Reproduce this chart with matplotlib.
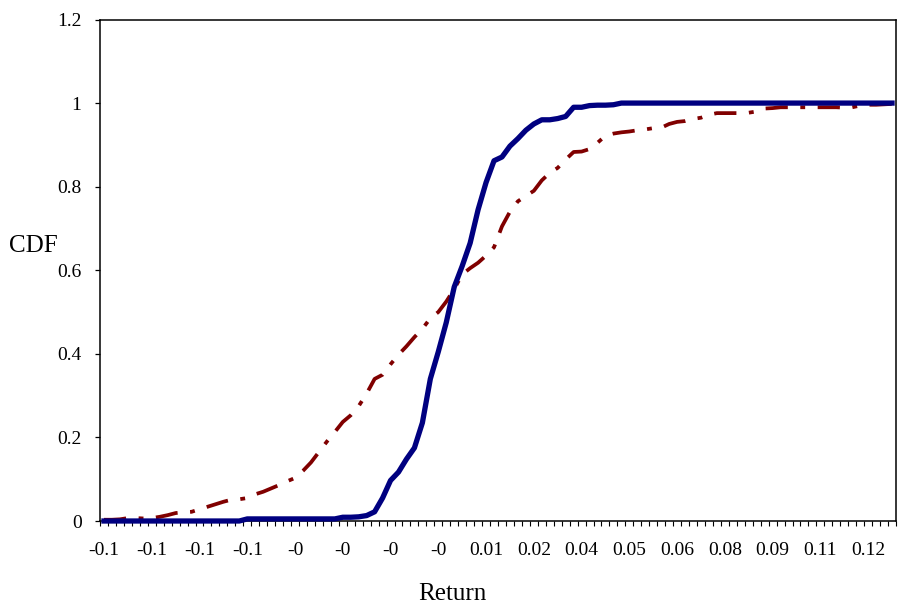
import numpy as np
import matplotlib
matplotlib.use("Agg")
import matplotlib.pyplot as plt

# CDF of returns, 100 bins
cdf_blue = [0.000, 0.000, 0.000, 0.000, 0.000, 0.000, 0.000, 0.000, 0.000, 0.000,
            0.000, 0.000, 0.000, 0.000, 0.000, 0.000, 0.000, 0.000, 0.005, 0.005,
            0.005, 0.005, 0.005, 0.005, 0.005, 0.005, 0.005, 0.005, 0.005, 0.005,
            0.009, 0.009, 0.010, 0.013, 0.022, 0.055, 0.097, 0.117, 0.148, 0.175,
            0.235, 0.340, 0.405, 0.475, 0.560, 0.610, 0.665, 0.745, 0.810, 0.862,
            0.871, 0.897, 0.915, 0.935, 0.950, 0.960, 0.960, 0.963, 0.968, 0.990,
            0.990, 0.994, 0.995, 0.995, 0.996, 1.000, 1.000, 1.000, 1.000, 1.000,
            1.000, 1.000, 1.000, 1.000, 1.000, 1.000, 1.000, 1.000, 1.000, 1.000,
            1.000, 1.000, 1.000, 1.000, 1.000, 1.000, 1.000, 1.000, 1.000, 1.000,
            1.000, 1.000, 1.000, 1.000, 1.000, 1.000, 1.000, 1.000, 1.000, 1.000]

cdf_red = [0.003, 0.003, 0.004, 0.007, 0.007, 0.006, 0.007, 0.010, 0.014, 0.019,
           0.021, 0.022, 0.028, 0.034, 0.040, 0.046, 0.051, 0.052, 0.055, 0.064,
           0.070, 0.078, 0.086, 0.095, 0.103, 0.120, 0.140, 0.165, 0.190, 0.213,
           0.237, 0.253, 0.275, 0.305, 0.340, 0.350, 0.375, 0.398, 0.418, 0.440,
           0.460, 0.485, 0.500, 0.525, 0.555, 0.590, 0.605, 0.618, 0.635, 0.655,
           0.705, 0.740, 0.765, 0.778, 0.790, 0.815, 0.833, 0.845, 0.865, 0.883,
           0.884, 0.890, 0.905, 0.922, 0.927, 0.930, 0.932, 0.935, 0.937, 0.940,
           0.941, 0.950, 0.955, 0.957, 0.962, 0.965, 0.972, 0.976, 0.976, 0.976,
           0.976, 0.977, 0.980, 0.987, 0.988, 0.990, 0.990, 0.990, 0.990, 0.990,
           0.990, 0.990, 0.990, 0.989, 0.990, 0.994, 0.996, 0.996, 0.997, 0.998]

# x labels as they appear on the category axis (every 6th bin)
return_labels = ["-0.1", "-0.1", "-0.1", "-0.1", "-0", "-0", "-0", "-0", "0.01",
                 "0.02", "0.04", "0.05", "0.06", "0.08", "0.09", "0.11", "0.12"]
label_step = 6

y_ticks = [0, 0.2, 0.4, 0.6, 0.8, 1, 1.2]
y_labels = ["0", "0.2", "0.4", "0.6", "0.8", "1", "1.2"]

plt.rcParams["font.family"] = ["Liberation Serif", "DejaVu Serif"]
plt.rcParams["lines.scale_dashes"] = False

fig = plt.figure(figsize=(9.04, 6.08), dpi=100)
ax = fig.add_axes([100 / 904, 1 - 521 / 608, 796 / 904, 501.5 / 608])

x = np.arange(len(cdf_blue))

red_line, = ax.plot(x, cdf_red, color="#800000", linewidth=2.7, zorder=2,
                    solid_joinstyle="round")
red_line.set_dashes([16, 9, 3.5, 9])
red_line.set_dash_capstyle("butt")

ax.plot(x, cdf_blue, color="#000080", linewidth=3.8, zorder=3,
        solid_joinstyle="round", clip_on=False)

ax.set_xlim(-0.5, len(cdf_blue) - 0.5)
ax.set_ylim(0, 1.2)

# labels centred on every 6th category, tick marks on category boundaries
label_pos = np.arange(0, len(return_labels) * label_step, label_step)
ax.set_xticks(label_pos)
ax.set_xticklabels(return_labels, fontsize=14)
ax.set_xticks(np.arange(len(cdf_blue) + 1) - 0.5, minor=True)
ax.tick_params(axis="x", which="major", length=0, pad=15)
ax.tick_params(axis="x", which="minor", direction="out", length=3.6, width=0.8)

ax.set_yticks(y_ticks)
ax.set_yticklabels(y_labels, fontsize=14)
ax.tick_params(axis="y", direction="out", length=3.3, width=0.9, pad=10)

for s in ax.spines.values():
    s.set_linewidth(1.1)
    s.set_color("black")

ax.set_xlabel("Return", fontsize=18, va="center")
ax.xaxis.set_label_coords(0.443, -0.145)
ax.set_ylabel("CDF", fontsize=18, rotation=0, va="center", ha="left")
ax.yaxis.set_label_coords(-0.114, 0.548)

fig.savefig("out.png", dpi=100)
